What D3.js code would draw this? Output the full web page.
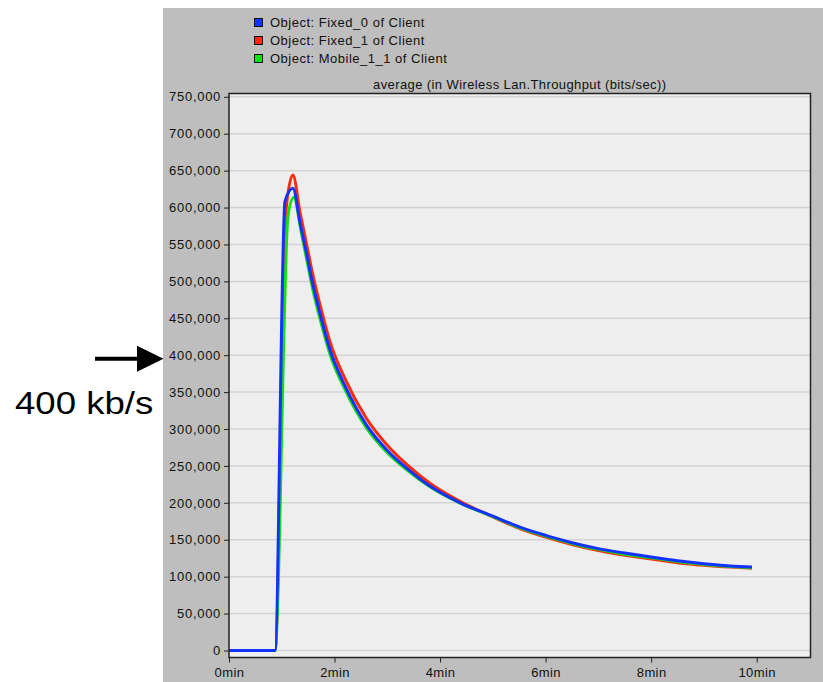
<!DOCTYPE html>
<html>
<head>
<meta charset="utf-8">
<script src="https://cdn.jsdelivr.net/npm/d3@7"></script>
<style>
  html, body { margin: 0; padding: 0; background: #ffffff; }
  svg { display: block; font-family: "Liberation Sans", Arial, sans-serif; }
</style>
</head>
<body>
<svg id="chart" width="823" height="682"></svg>
<script>
// Time axis in minutes, throughput in bits/sec
const xTicks = [0, 2, 4, 6, 8, 10];
const yTicks = [0, 50000, 100000, 150000, 200000, 250000, 300000, 350000,
                400000, 450000, 500000, 550000, 600000, 650000, 700000, 750000];

const seriesNames = ["Object: Fixed_0 of Client", "Object: Fixed_1 of Client", "Object: Mobile_1_1 of Client"];
const seriesColors = ["#1233ff", "#ff2a0c", "#12e012"];

// [minutes, bits/sec]
const fixed0 = [
  [0, 0], [0.87, 0], [1.06, 608000], [1.21, 626000], [1.35, 578000], [1.46, 541000],
  [1.57, 502000], [1.74, 452000], [1.91, 408000], [2.2, 358000], [2.6, 306000],
  [3.0, 271000], [3.4, 245000], [3.8, 223000], [4.38, 200000], [5.0, 182000],
  [5.5, 167500], [6.0, 156000], [6.5, 146000], [7.0, 138000], [7.5, 132000],
  [8.0, 126500], [8.5, 121500], [9.0, 117500], [9.5, 114500], [9.91, 113000]
];
const fixed1 = [
  [0, 0], [0.87, 0], [1.08, 596000], [1.21, 644000], [1.35, 592000], [1.46, 554000],
  [1.57, 515000], [1.74, 464000], [1.91, 419000], [2.2, 368000], [2.6, 315000],
  [3.0, 278000], [3.4, 250000], [3.8, 227000], [4.38, 202000], [5.0, 181000],
  [5.5, 165500], [6.0, 153500], [6.5, 143500], [7.0, 135500], [7.5, 129000],
  [8.0, 124000], [8.5, 119000], [9.0, 115500], [9.5, 113000], [9.91, 111500]
];
const mobile11 = [
  [0, 0], [0.87, 0], [1.12, 590000], [1.23, 614000], [1.36, 570000], [1.46, 534000],
  [1.57, 495000], [1.74, 445000], [1.91, 402000], [2.2, 353000], [2.6, 302000],
  [3.0, 268000], [3.4, 243000], [3.8, 222000], [4.38, 199500], [5.0, 181500],
  [5.5, 166500], [6.0, 155000], [6.5, 145000], [7.0, 137000], [7.5, 130500],
  [8.0, 125500], [8.5, 120500], [9.0, 116500], [9.5, 113800], [9.91, 112200]
];

const svg = d3.select("#chart");

// grey panel
svg.append("rect").attr("x", 163).attr("y", 8).attr("width", 660).attr("height", 674)
  .attr("fill", "#bebebe");

const x = d3.scaleLinear().domain([0, 11.02]).range([229, 810.5]);
const y = d3.scaleLinear().domain([-9500, 754500]).range([657.5, 93.5]);

// plot background
svg.append("rect")
  .attr("x", x(0)).attr("y", y(754500))
  .attr("width", x(11.02) - x(0)).attr("height", y(-9500) - y(754500))
  .attr("fill", "#eeeeee");

// horizontal grid
svg.append("g").selectAll("line").data(yTicks).join("line")
  .attr("x1", x(0)).attr("x2", x(11.02))
  .attr("y1", d => y(d)).attr("y2", d => y(d))
  .attr("stroke", "#d3d3d3").attr("stroke-width", 1.5);

// series (drawn back to front)
const line = d3.line().x(d => x(d[0])).y(d => y(d[1])).curve(d3.curveMonotoneX);
const drawOrder = [[fixed1, 1], [mobile11, 2], [fixed0, 0]];
svg.append("g").selectAll("path").data(drawOrder).join("path")
  .attr("d", d => line(d[0]))
  .attr("fill", "none")
  .attr("stroke", d => seriesColors[d[1]])
  .attr("stroke-width", 3)
  .attr("stroke-linejoin", "round");

// plot frame
svg.append("rect")
  .attr("x", x(0)).attr("y", y(754500))
  .attr("width", x(11.02) - x(0)).attr("height", y(-9500) - y(754500))
  .attr("fill", "none").attr("stroke", "#222").attr("stroke-width", 1.5);

// y axis
const yAxis = svg.append("g").attr("transform", `translate(${x(0)},0)`)
  .call(d3.axisLeft(y).tickValues(yTicks).tickFormat(d3.format(",")).tickSize(5).tickPadding(3));
yAxis.select(".domain").remove();
yAxis.selectAll("line").attr("stroke", "#222");
yAxis.selectAll("text").attr("font-size", 13).attr("letter-spacing", 0.7)
  .attr("fill", "#111").attr("font-family", "Liberation Sans, Arial, sans-serif");

// x axis
const xAxis = svg.append("g").attr("transform", `translate(0,${y(-9500)})`)
  .call(d3.axisBottom(x).tickValues(xTicks).tickFormat(d => d + "min").tickSize(5).tickPadding(5));
xAxis.select(".domain").remove();
xAxis.selectAll("line").attr("stroke", "#222");
xAxis.selectAll("text").attr("font-size", 13).attr("letter-spacing", 0.4)
  .attr("fill", "#111").attr("font-family", "Liberation Sans, Arial, sans-serif");

// legend
const legend = svg.append("g");
seriesNames.forEach((name, i) => {
  legend.append("rect").attr("x", 254.5).attr("y", 18.5 + i * 18).attr("width", 8).attr("height", 8)
    .attr("fill", seriesColors[i]).attr("stroke", "#111").attr("stroke-width", 1);
  legend.append("text").attr("x", 270).attr("y", 27 + i * 18)
    .attr("font-size", 13).attr("letter-spacing", 0.5).attr("fill", "#111")
    .text(name);
});

// chart title
svg.append("text").attr("x", (x(0) + x(11.02)) / 2).attr("y", 89)
  .attr("text-anchor", "middle").attr("font-size", 13).attr("letter-spacing", 0.4)
  .attr("fill", "#111")
  .text("average (in Wireless Lan.Throughput (bits/sec))");

// annotation pointing to the 400,000 level
const ay = y(400000) + 3.5;
svg.append("line").attr("x1", 95).attr("x2", 140).attr("y1", ay).attr("y2", ay)
  .attr("stroke", "#000").attr("stroke-width", 4);
svg.append("path")
  .attr("d", `M137,${ay - 13} L163.5,${ay} L137,${ay + 13} Z`)
  .attr("fill", "#000");
svg.append("text")
  .attr("transform", "translate(15,414) scale(1.18,1)")
  .attr("font-size", 31).attr("fill", "#000")
  .text("400 kb/s");
</script>
</body>
</html>
